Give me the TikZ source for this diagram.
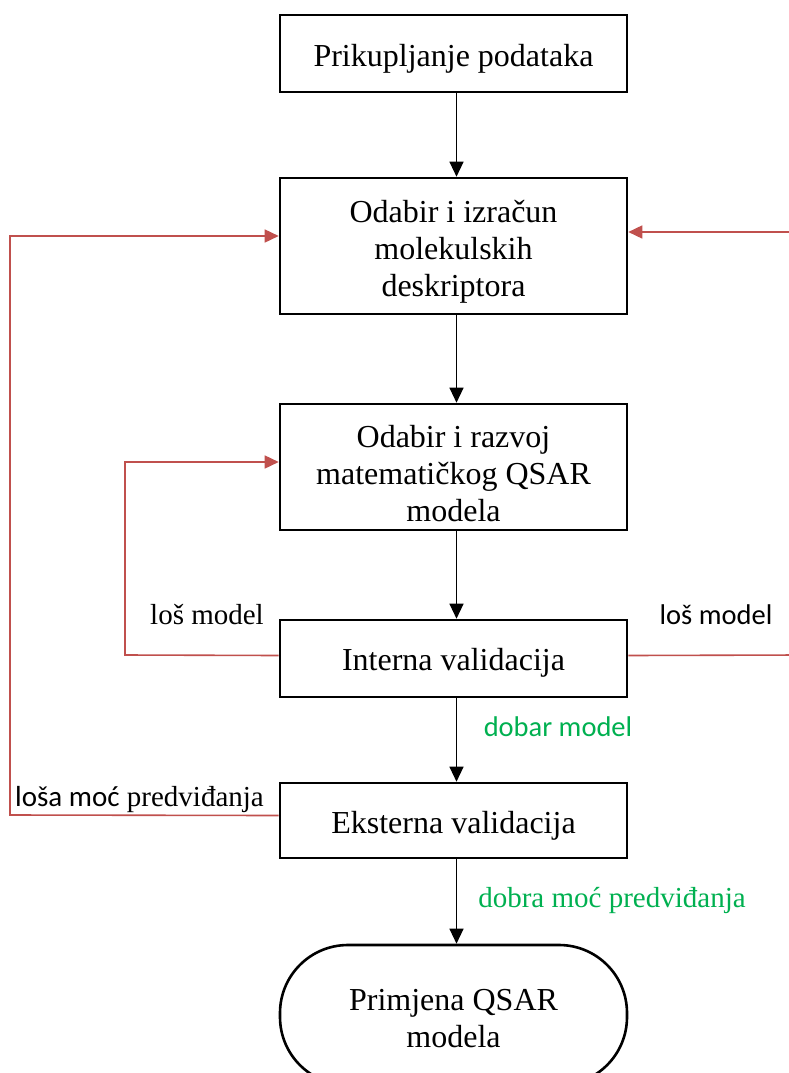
\documentclass[tikz,border=0pt]{standalone}
\usepackage{fontspec}
\setmainfont{Liberation Serif}
\newfontfamily\calib{Carlito}
\usetikzlibrary{arrows.meta}
\definecolor{redline}{HTML}{C0504D}
\definecolor{greentext}{HTML}{00B050}
\tikzset{
  box/.style={draw, line width=2.6pt, minimum width=347pt, inner sep=0pt},
  boxtext/.style={align=center, inner sep=0pt, font=\fontsize{32}{37}\selectfont},
  flow/.style={line width=1.2pt, -{Triangle[length=15pt,width=14pt]}},
  loop/.style={draw=redline, line width=1.6pt, -{Triangle[length=14pt,width=13pt]}, redline},
  lbl/.style={inner sep=0pt, font=\fontsize{29}{33}\selectfont},
  slbl/.style={inner sep=0pt, font=\calib\fontsize{28.5}{33}\selectfont},
}
\begin{document}
\begin{tikzpicture}[x=1pt,y=-1pt]
\useasboundingbox (0,0) rectangle (789,1073);
\clip (0,0) rectangle (789,1073);
\node[box, minimum height=77pt] (b1) at (453.5,53.5) {};
\node[box, minimum height=136pt] (b2) at (453.5,246) {};
\node[box, minimum height=126pt] (b3) at (453.5,467) {};
\node[box, minimum height=77pt] (b4) at (453.5,658.5) {};
\node[box, minimum height=75pt] (b5) at (453.5,820.5) {};
\node[box, minimum height=140pt, rounded corners=68pt] (b6) at (453.5,1015) {};

\node[boxtext] (t1) at ([yshift=-5pt]b1.center) {Prikupljanje podataka};
\node[boxtext] (t2) at ([yshift=-6pt]b2.center) {Odabir i izračun\\molekulskih\\deskriptora};
\node[boxtext] (t3) at ([yshift=-7pt]b3.center) {Odabir i razvoj\\matematičkog QSAR\\modela};
\node[boxtext] (t4) at ([yshift=-4pt]b4.center) {Interna validacija};
\node[boxtext] (t5) at ([yshift=-5pt]b5.center) {Eksterna validacija};
\node[boxtext] (t6) at ([yshift=-4pt]b6.center) {Primjena QSAR\\modela};

\draw[flow] ([xshift=3pt]b1.south) -- ([xshift=3pt]b2.north);
\draw[flow] ([xshift=3pt]b2.south) -- ([xshift=3pt]b3.north);
\draw[flow] ([xshift=3pt]b3.south) -- ([xshift=3pt]b4.north);
\draw[flow] ([xshift=3pt]b4.south) -- ([xshift=3pt]b5.north);
\draw[flow] ([xshift=3pt]b5.south) -- ([xshift=3pt]b6.north);

\coordinate (lo) at (10,815);
\coordinate (li) at (125,655);
\coordinate (rb) at (800,655);
\coordinate (rt) at (800,232);

\draw[loop] ([yshift=5pt]b5.west) -- (lo) |- ([yshift=10pt]b2.west);
\draw[loop] ([yshift=3pt]b4.west) -- (li) |- ([yshift=5pt]b3.west);
\draw[loop] ([yshift=3pt]b4.east) -- (rb) -- (rt) -- ([yshift=14pt]b2.east);

\node[lbl] (l1) at (207,615) {loš model};
\node[slbl] (l2) at (716,615) {loš model};
\node[slbl, text=greentext] (l3) at (558,727) {dobar model};
\node[lbl, anchor=west] (l4) at (15,800) {{\calib loša moć} predviđanja};
\node[lbl, text=greentext] (l5) at (612,900) {dobra moć predviđanja};
\end{tikzpicture}
\end{document}
